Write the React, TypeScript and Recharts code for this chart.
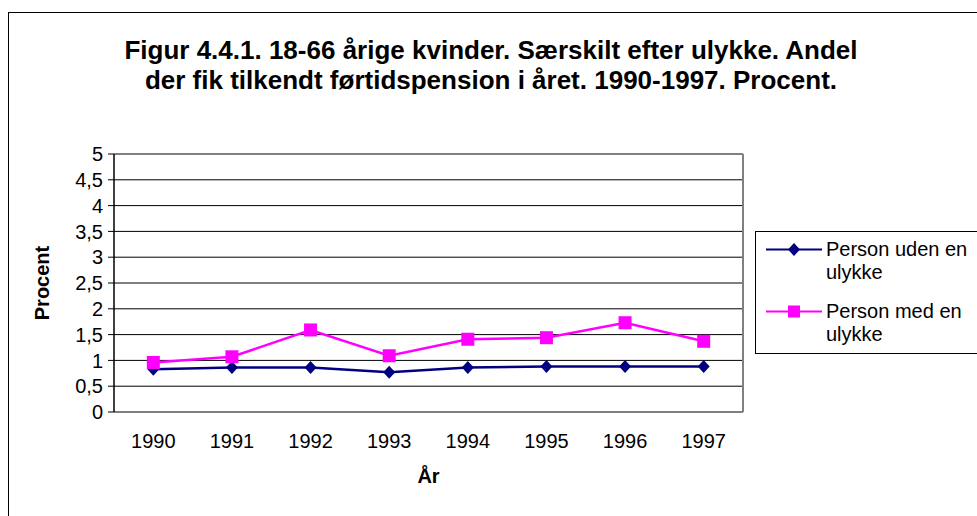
import React from 'react'
import { CartesianGrid, Legend, Line, LineChart, ReferenceLine, XAxis, YAxis } from 'recharts'

const years = ['1990', '1991', '1992', '1993', '1994', '1995', '1996', '1997']
const udenUlykke = [0.83, 0.86, 0.86, 0.77, 0.86, 0.88, 0.88, 0.88]
const medUlykke = [0.96, 1.07, 1.59, 1.09, 1.41, 1.44, 1.73, 1.37]
const yTicks = [0, 0.5, 1, 1.5, 2, 2.5, 3, 3.5, 4, 4.5, 5]
const seriesOrder = ['uden', 'med']
const titleLines = [
  'Figur 4.4.1. 18-66 årige kvinder. Særskilt efter ulykke. Andel',
  'der fik tilkendt førtidspension i året. 1990-1997. Procent.',
]

const FONT = '"Liberation Sans", Arial, sans-serif'
const NAVY = '#000080'
const PINK = '#FF00FF'

const data = years.map((year, i) => ({ x: i + 0.5, year, uden: udenUlykke[i], med: medUlykke[i] }))
const boundaryTicks = years.map((_, i) => i).concat(years.length)
const centerTicks = years.map((_, i) => i + 0.5)

function Diamond({ cx, cy, color, r = 6.5 }: { cx: number; cy: number; color: string; r?: number }) {
  return <path d={`M${cx},${cy - r}L${cx + r - 0.5},${cy}L${cx},${cy + r}L${cx - r + 0.5},${cy}Z`} fill={color} />
}

function Square({ cx, cy, color, s = 13 }: { cx: number; cy: number; color: string; s?: number }) {
  return <rect x={cx - s / 2} y={cy - s / 2} width={s} height={s} fill={color} />
}

function LegendBox({ payload }: any) {
  // keep the series order of the original, not alphabetical
  const items = [...(payload || [])].sort(
    (a: any, b: any) => seriesOrder.indexOf(a.dataKey) - seriesOrder.indexOf(b.dataKey),
  )
  return (
    <div
      style={{
        border: '1px solid #000',
        background: '#fff',
        width: 260,
        height: 123,
        boxSizing: 'border-box',
        padding: '6px 0 0 10px',
        fontFamily: FONT,
        fontSize: 20,
        lineHeight: '23px',
        color: '#000',
      }}
    >
      {items.map((entry: any, i: number) => {
        const [first, ...rest] = String(entry.value).split(' ulykke')
        return (
          <div key={i} style={{ display: 'flex', alignItems: 'flex-start', marginBottom: 16 }}>
            <svg width={56} height={23} style={{ flex: 'none' }}>
              <line x1={0} x2={56} y1={11.5} y2={11.5} stroke={entry.color} strokeWidth={2} />
              {entry.dataKey === 'uden' ? (
                <Diamond cx={28} cy={11.5} color={entry.color} />
              ) : (
                <Square cx={28} cy={11.5} color={entry.color} s={12} />
              )}
            </svg>
            <div style={{ marginLeft: 4 }}>
              {first}
              <br />
              ulykke{rest.join('')}
            </div>
          </div>
        )
      })}
    </div>
  )
}

export default function App() {
  return (
    <div style={{ position: 'absolute', left: 0, top: 0, width: 977, height: 516, overflow: 'hidden', background: '#fff' }}>
      <div style={{ position: 'absolute', left: 8, top: 12, width: 1100, height: 700, border: '1px solid #000' }} />
      <div
        style={{
          position: 'absolute',
          left: 0,
          top: 35,
          width: 982,
          textAlign: 'center',
          fontFamily: FONT,
          fontWeight: 'bold',
          fontSize: 26,
          lineHeight: '30px',
          color: '#000',
        }}
      >
        {titleLines[0]}
        <br />
        {titleLines[1]}
      </div>
      <div style={{ position: 'absolute', left: 0, top: 0 }}>
        <LineChart width={977} height={516} data={data} margin={{ top: 154, right: 234, bottom: 74, left: 54 }}>
          <CartesianGrid vertical={false} stroke="#000" strokeWidth={1} />
          <ReferenceLine y={5} stroke="#808080" strokeWidth={2} />
          <ReferenceLine x={8} stroke="#808080" strokeWidth={2} />
          <XAxis
            dataKey="x"
            type="number"
            domain={[0, 8]}
            ticks={boundaryTicks}
            tick={false}
            tickSize={6}
            height={0}
            axisLine={{ stroke: '#000', strokeWidth: 1.5 }}
            tickLine={{ stroke: '#000' }}
          />
          <XAxis
            xAxisId="labels"
            dataKey="x"
            type="number"
            domain={[0, 8]}
            ticks={centerTicks}
            tickFormatter={(v: number) => years[Math.floor(v)]}
            axisLine={false}
            tickLine={false}
            tickSize={0}
            tickMargin={22}
            height={30}
            tick={{ fill: '#000', fontSize: 20, fontFamily: FONT }}
            label={{
              content: ({ viewBox }: any) => (
                <text
                  x={viewBox.x + viewBox.width / 2}
                  y={476}
                  textAnchor="middle"
                  dominantBaseline="central"
                  fontFamily={FONT}
                  fontWeight="bold"
                  fontSize={20}
                  fill="#000"
                >
                  År
                </text>
              ),
            }}
          />
          <YAxis
            domain={[0, 5]}
            ticks={yTicks}
            interval={0}
            width={60}
            tickSize={6}
            tickMargin={5}
            tickFormatter={(v: number) => String(v).replace('.', ',')}
            axisLine={{ stroke: '#000', strokeWidth: 1.5 }}
            tickLine={{ stroke: '#000' }}
            tick={{ fill: '#000', fontSize: 20, fontFamily: FONT }}
            label={{
              content: ({ viewBox }: any) => (
                <text
                  x={42}
                  y={viewBox.y + viewBox.height / 2}
                  transform={`rotate(-90 42 ${viewBox.y + viewBox.height / 2})`}
                  textAnchor="middle"
                  dominantBaseline="central"
                  fontFamily={FONT}
                  fontWeight="bold"
                  fontSize={20}
                  fill="#000"
                >
                  Procent
                </text>
              ),
            }}
          />
          <Legend
            layout="vertical"
            align="center"
            verticalAlign="middle"
            wrapperStyle={{ left: 755, top: 231, width: 260, height: 123 }}
            content={<LegendBox />}
          />
          <Line
            dataKey="uden"
            name="Person uden en ulykke"
            stroke={NAVY}
            strokeWidth={2.5}
            isAnimationActive={false}
            dot={(p: any) => <Diamond key={`d${p.index}`} cx={p.cx} cy={p.cy} color={NAVY} />}
            activeDot={false}
          />
          <Line
            dataKey="med"
            name="Person med en ulykke"
            stroke={PINK}
            strokeWidth={2.5}
            isAnimationActive={false}
            dot={(p: any) => <Square key={`s${p.index}`} cx={p.cx} cy={p.cy} color={PINK} />}
            activeDot={false}
          />
        </LineChart>
      </div>
    </div>
  )
}
